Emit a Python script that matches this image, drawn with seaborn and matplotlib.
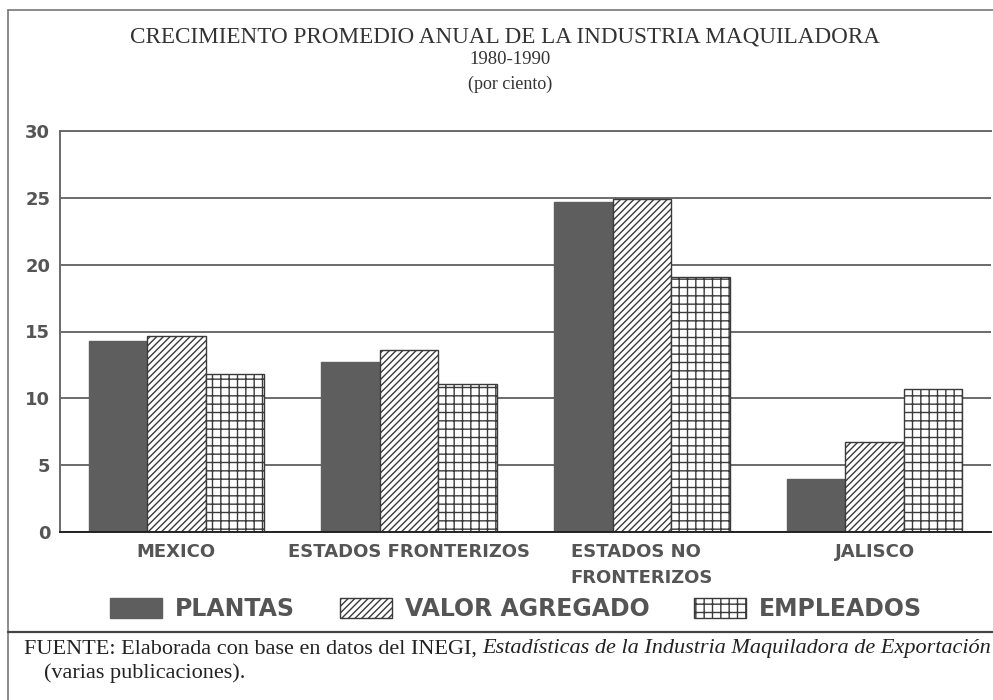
import matplotlib
matplotlib.use("Agg")
import matplotlib.pyplot as plt
import seaborn as sns
import pandas as pd
from matplotlib.lines import Line2D
from matplotlib.patches import Patch

categories = ["MEXICO", "ESTADOS FRONTERIZOS", "ESTADOS NO\nFRONTERIZOS", "JALISCO"]
series = ["PLANTAS", "VALOR AGREGADO", "EMPLEADOS"]
plantas = [14.3, 12.7, 24.7, 4.0]
valor_agregado = [14.7, 13.6, 24.9, 6.7]
empleados = [11.8, 11.1, 19.1, 10.7]
yticks = [0, 5, 10, 15, 20, 25, 30]

title_lines = ["CRECIMIENTO PROMEDIO ANUAL DE LA INDUSTRIA MAQUILADORA", "1980-1990", "(por ciento)"]
source_a = "FUENTE: Elaborada con base en datos del INEGI, "
source_b = "Estadísticas de la Industria Maquiladora de Exportación"
source_c = "(varias publicaciones)."

sns.set_theme(style="white")
plt.rcParams['font.family'] = ['DejaVu Sans']
plt.rcParams['hatch.color'] = '#3a3a3a'
plt.rcParams['hatch.linewidth'] = 1.0

rows = []
for s, vals in zip(series, [plantas, valor_agregado, empleados]):
    for c, v in zip(categories, vals):
        rows.append({"cat": c, "serie": s, "val": v})
df = pd.DataFrame(rows)

fig = plt.figure(figsize=(9.93, 7.0), dpi=100)
ax = fig.add_axes([60/993, 1-532/700, 931/993, 401/700])

face = {"PLANTAS": "#5e5e5e", "VALOR AGREGADO": "white", "EMPLEADOS": "white"}
edge = {"PLANTAS": "#5e5e5e", "VALOR AGREGADO": "#3a3a3a", "EMPLEADOS": "#3a3a3a"}
hatches = {"PLANTAS": "", "VALOR AGREGADO": "/////", "EMPLEADOS": "++"}
sns.barplot(data=df, x="cat", y="val", hue="serie", order=categories, hue_order=series,
            palette=face, saturation=1, width=0.755, ax=ax, legend=False,
            edgecolor="#3a3a3a", linewidth=1.0)
for cont, s in zip(ax.containers, series):
    for p in cont:
        p.set_hatch(hatches[s])
        p.set_edgecolor(edge[s])

ax.set_ylim(0, 30)
ax.set_xlim(-0.5, 3.5)
ax.set_yticks(yticks)
ax.set_xlabel("")
ax.set_ylabel("")
ax.yaxis.grid(True, color="#6a6a6a", linewidth=1.4)
ax.set_axisbelow(True)
for sp in ["left", "top"]:
    ax.spines[sp].set_visible(True)
    ax.spines[sp].set_color("#6a6a6a")
    ax.spines[sp].set_linewidth(1.4)
ax.spines["right"].set_visible(False)
ax.spines["bottom"].set_color("#222222")
ax.spines["bottom"].set_linewidth(1.4)
ax.tick_params(axis="both", length=0)
ax.tick_params(axis="y", pad=7)
ax.tick_params(axis="x", pad=8)
for lab in ax.get_yticklabels():
    lab.set_fontsize(13); lab.set_fontweight("heavy"); lab.set_color("#555555")
for lab in ax.get_xticklabels():
    lab.set_fontsize(13); lab.set_fontweight("heavy"); lab.set_color("#555555")
    lab.set_linespacing(1.55)
    lab.set_multialignment("left")

# title
serif = ["Liberation Serif", "DejaVu Serif"]
fig.text(505/993, 1-37/700, title_lines[0], ha="center", va="center", family=serif, fontsize=16.7, color="#333333")
fig.text(510/993, 1-60/700, title_lines[1], ha="center", va="center", family=serif, fontsize=13.5, color="#333333")
fig.text(510/993, 1-84/700, title_lines[2], ha="center", va="center", family=serif, fontsize=13, color="#333333")

# legend
handles = [Patch(facecolor=face[s], edgecolor=edge[s], hatch=hatches[s], linewidth=1.0) for s in series]
leg = fig.legend(handles, series, loc="center left", bbox_to_anchor=(98/993, 1-609/700), ncol=3,
                 frameon=False, borderpad=0, handlelength=2.2, handleheight=0.93, handletextpad=0.55,
                 columnspacing=1.9, prop={"weight": "heavy", "size": 17})
for t in leg.get_texts():
    t.set_color("#555555")

# frame decorations
fig.add_artist(Line2D([8/993, 8/993], [0, 1-10/700], transform=fig.transFigure, color="#777777", lw=1.2))
fig.add_artist(Line2D([8/993, 1], [1-10/700, 1-10/700], transform=fig.transFigure, color="#777777", lw=1.2))
fig.add_artist(Line2D([8/993, 1], [1-632/700, 1-632/700], transform=fig.transFigure, color="#444444", lw=1.6))

# source
t1 = fig.text(24/993, 1-649/700, source_a, ha="left", va="center", family=serif, fontsize=16, color="#222222")
fig.canvas.draw()
r = fig.canvas.get_renderer()
bb = t1.get_window_extent(r)
x2 = bb.x1 / fig.bbox.width
fig.text(x2, 1-649/700, source_b, ha="left", va="center", family=serif, style="italic", fontsize=16, color="#222222")
fig.text(44/993, 1-673/700, source_c, ha="left", va="center", family=serif, fontsize=16, color="#222222")

fig.savefig("out.png", dpi=100, facecolor="white")
